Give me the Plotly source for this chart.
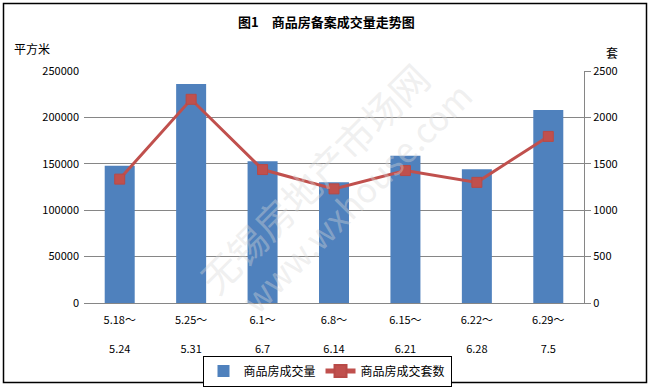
import plotly.graph_objects as go

weeks_start = ["5.18～", "5.25～", "6.1～", "6.8～", "6.15～", "6.22～", "6.29～"]
weeks_end = ["5.24", "5.31", "6.7", "6.14", "6.21", "6.28", "7.5"]
area_sqm = [148000, 236000, 152700, 130000, 158800, 144000, 208000]
units = [1335, 2195, 1438, 1230, 1427, 1300, 1795]
left_ticks = [0, 50000, 100000, 150000, 200000, 250000]
right_ticks = [0, 500, 1000, 1500, 2000, 2500]

cats = list(range(len(weeks_start)))
ticktext = [f"{a}<br><br>{b}" for a, b in zip(weeks_start, weeks_end)]

FONT = "Noto Sans CJK SC, SimSun, sans-serif"

fig = go.Figure()
fig.add_trace(go.Bar(
    x=cats, y=area_sqm, name="商品房成交量",
    marker=dict(color="#4F81BD", line=dict(width=0)),
    yaxis="y",
))
fig.add_trace(go.Scatter(
    x=cats, y=units, name="商品房成交套数", mode="lines+markers",
    line=dict(color="#C0504D", width=3),
    marker=dict(symbol="square", size=10, color="#C0504D",
                line=dict(color="#B84A47", width=1)),
    yaxis="y2",
))

W, H = 651, 387
L, R, T, B = 84, 584, 71, 303
ml, mr, mt, mb = L, W - R, T, H - B

def px_x(px):
    return (px - L) / (R - L)

def px_y(py):
    return (B - py) / (B - T)

fig.update_layout(
    width=W, height=H, autosize=False,
    margin=dict(l=ml, r=mr, t=mt, b=mb, pad=0, autoexpand=False),
    paper_bgcolor="white", plot_bgcolor="white",
    font=dict(family=FONT, size=11, color="black"),
    bargap=0.58,
    showlegend=True,
    legend=dict(
        orientation="h", x=px_x(327), xanchor="center", y=px_y(371), yanchor="middle",
        bordercolor="black", borderwidth=1, bgcolor="white",
        font=dict(size=12, family=FONT), itemwidth=30, tracegroupgap=0,
        itemsizing="constant",
    ),
    xaxis=dict(
        tickmode="array", tickvals=cats, ticktext=ticktext,
        range=[-0.5, len(cats) - 0.5], showgrid=False, zeroline=False,
        showline=True, linecolor="#868686", linewidth=1,
        ticks="", ticklabelstandoff=7, tickfont=dict(size=11, family=FONT),
    ),
    yaxis=dict(
        range=[0, 250000], tickmode="array", tickvals=left_ticks,
        ticktext=[str(v) for v in left_ticks],
        showgrid=True, gridcolor="#868686", gridwidth=1, zeroline=False,
        showline=False, ticks="", ticklen=0, ticklabelstandoff=4,
        tickfont=dict(size=11, family=FONT),
    ),
    yaxis2=dict(
        range=[0, 2500], tickmode="array", tickvals=right_ticks,
        ticktext=[str(v) for v in right_ticks],
        overlaying="y", side="right", showgrid=False, zeroline=False,
        showline=True, linecolor="#868686", linewidth=1,
        ticks="outside", ticklen=6, tickcolor="#868686",
        tickfont=dict(size=11, family=FONT),
    ),
)

annotations = [
    dict(text="<b>图1　商品房备案成交量走势图</b>", x=px_x(326), y=px_y(22),
         xref="paper", yref="paper", showarrow=False,
         font=dict(size=13, family=FONT, color="black"),
         xanchor="center", yanchor="middle"),
    dict(text="平方米", x=px_x(12), y=px_y(48), xref="paper", yref="paper",
         showarrow=False, font=dict(size=12, family=FONT, color="black"),
         xanchor="left", yanchor="middle"),
    dict(text="套", x=px_x(612), y=px_y(53), xref="paper", yref="paper",
         showarrow=False, font=dict(size=12, family=FONT, color="black"),
         xanchor="center", yanchor="middle"),
    dict(text="无锡房地产市场网", x=px_x(313), y=px_y(177), xref="paper", yref="paper",
         showarrow=False, textangle=-45,
         font=dict(size=38, family=FONT, color="rgba(215,215,215,0.4)"),
         xanchor="center", yanchor="middle"),
    dict(text="www.wxhouse.com", x=px_x(355), y=px_y(197), xref="paper", yref="paper",
         showarrow=False, textangle=-45,
         font=dict(size=34, family=FONT, color="rgba(215,215,215,0.4)"),
         xanchor="center", yanchor="middle"),
]
fig.update_layout(annotations=annotations)

fig.add_shape(type="rect", xref="paper", yref="paper",
              x0=px_x(3.5), x1=px_x(646.5), y0=px_y(382.5), y1=px_y(3.5),
              line=dict(color="black", width=1.5), fillcolor="rgba(0,0,0,0)",
              layer="above")

fig.write_html(
    "out.html",
    config={"displayModeBar": False},
    post_script="document.body.style.margin='0';document.body.style.padding='0';"
                "document.documentElement.style.overflow='hidden';",
)
